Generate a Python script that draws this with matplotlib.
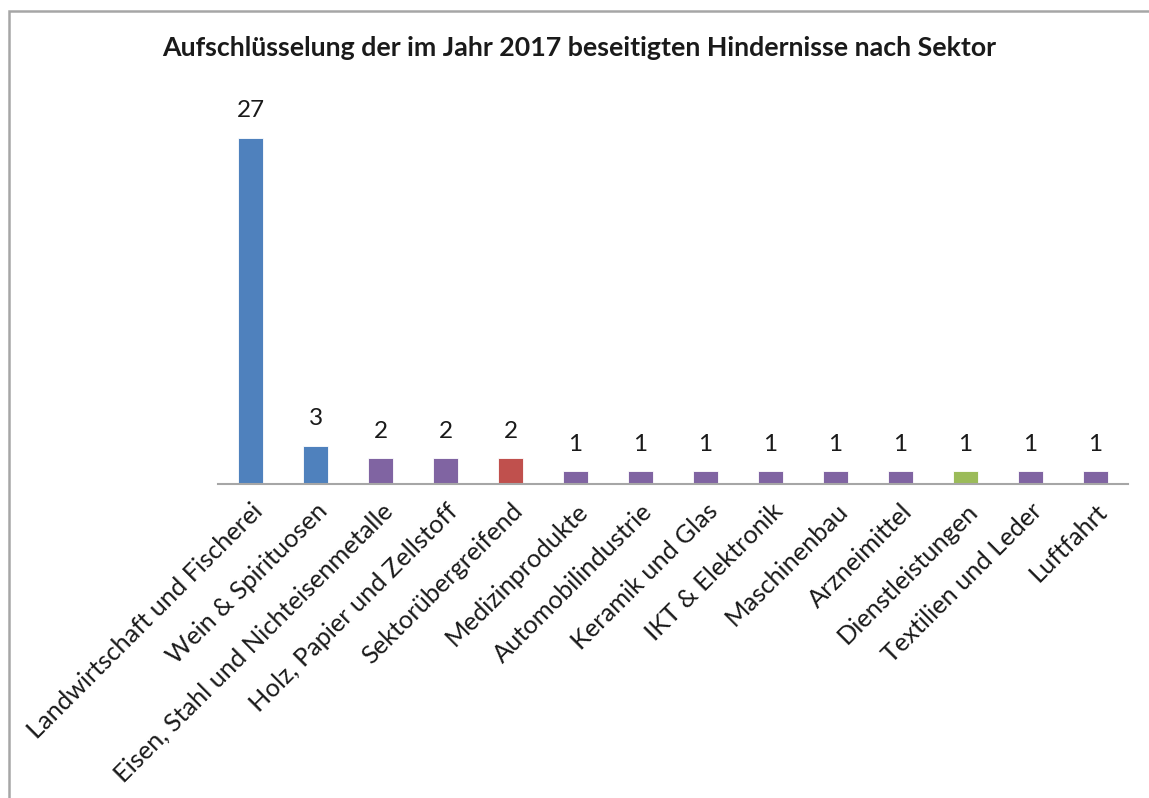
import matplotlib
matplotlib.use("Agg")
import matplotlib.pyplot as plt
from matplotlib.patches import Rectangle

categories = ["Landwirtschaft und Fischerei", "Wein & Spirituosen",
              "Eisen, Stahl und Nichteisenmetalle", "Holz, Papier und Zellstoff",
              "Sektorübergreifend", "Medizinprodukte", "Automobilindustrie",
              "Keramik und Glas", "IKT & Elektronik", "Maschinenbau",
              "Arzneimittel", "Dienstleistungen", "Textilien und Leder", "Luftfahrt"]
values = [27, 3, 2, 2, 2, 1, 1, 1, 1, 1, 1, 1, 1, 1]
bar_colors = ["#4F81BD", "#4F81BD", "#8064A2", "#8064A2", "#C0504D", "#8064A2",
              "#8064A2", "#8064A2", "#8064A2", "#8064A2", "#8064A2", "#9BBB59",
              "#8064A2", "#8064A2"]
title = "Aufschlüsselung der im Jahr 2017 beseitigten Hindernisse nach Sektor"

plt.rcParams['font.family'] = ['Lato', 'DejaVu Sans']
W, H = 1149, 798
fig = plt.figure(figsize=(W / 100, H / 100), dpi=100)

# outer frame
fig.patches.append(Rectangle((9 / W, -0.05), 1.2, 1 - 11 / H + 0.05,
                             transform=fig.transFigure, fill=False,
                             edgecolor="#a6a6a6", linewidth=1.8))

ax = fig.add_axes([218 / W, 1 - 484 / H, (1128 - 218) / W, (484 - 138) / H])
x = list(range(len(categories)))
ax.bar(x, values, width=0.38, color=bar_colors, edgecolor="white", linewidth=0.6)
ax.set_xlim(-0.5, len(categories) - 0.5)
ax.set_ylim(0, 27)
for s in ["top", "right", "left"]:
    ax.spines[s].set_visible(False)
ax.spines["bottom"].set_color("#a6a6a6")
ax.spines["bottom"].set_linewidth(1.5)
ax.set_yticks([])
ax.set_xticks(x)
ax.set_xticklabels(categories, rotation=45, ha="right", rotation_mode="anchor",
                   fontsize=18.3, color="#1a1a1a")
ax.tick_params(axis="x", length=0, pad=11)

for xi, v in zip(x, values):
    ax.annotate(str(v), (xi, v), xytext=(0, 12), textcoords="offset points",
                ha="center", va="bottom", fontsize=17.5, color="#1a1a1a",
                annotation_clip=False)

fig.text(0.5 + 0.5 * (9 / W), 1 - 48 / H, title, ha="center", va="center",
         fontsize=19.3, fontweight="bold", color="#1a1a1a")

fig.savefig("out.png", dpi=100)
